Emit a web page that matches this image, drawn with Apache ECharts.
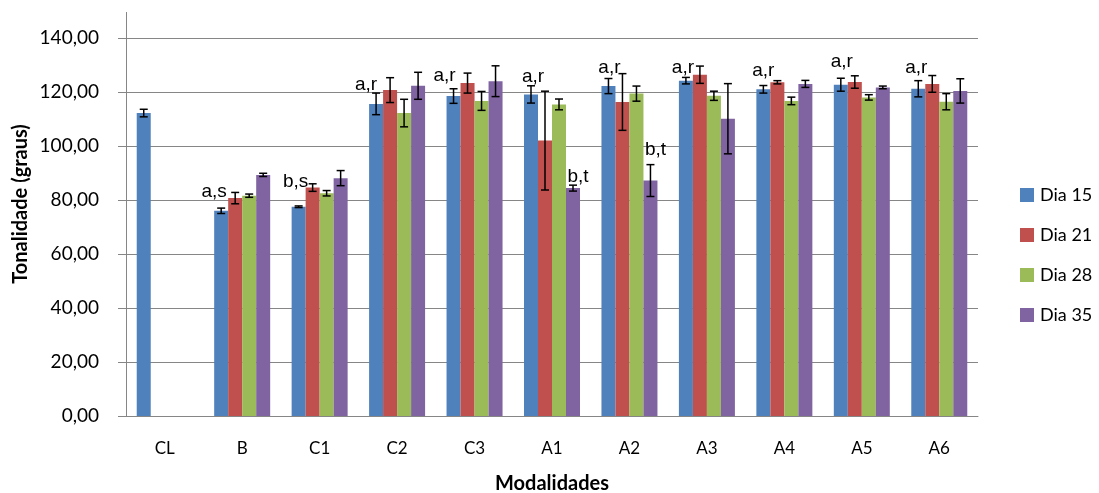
<!DOCTYPE html>
<html>
<head>
<meta charset="utf-8">
<script src="https://cdn.jsdelivr.net/npm/echarts@6/dist/echarts.min.js"></script>
<style>
  html, body { margin: 0; padding: 0; background: #fff; }
  #chart { width: 1099px; height: 493px; }
</style>
</head>
<body>
<div id="chart"></div>
<script>
// Tonalidade (graus) por modalidade, em quatro dias de armazenamento
const categories = ['CL', 'B', 'C1', 'C2', 'C3', 'A1', 'A2', 'A3', 'A4', 'A5', 'A6'];
const seriesNames = ['Dia 15', 'Dia 21', 'Dia 28', 'Dia 35'];

const dia15 = [112.2, 76.0, 77.5, 115.6, 118.5, 119.1, 122.2, 124.2, 121.0, 122.7, 121.2];
const dia21 = [null, 80.7, 84.6, 120.7, 123.3, 102.0, 116.3, 126.4, 123.6, 123.7, 123.0];
const dia28 = [null, 81.6, 82.5, 112.2, 116.7, 115.4, 119.4, 118.6, 116.7, 118.0, 116.4];
const dia35 = [null, 89.3, 88.1, 122.3, 124.0, 84.4, 87.2, 110.1, 123.0, 121.7, 120.4];

// desvio padrão (barras de erro)
const err15 = [1.4, 1.0, 0.3, 4.0, 2.7, 3.2, 2.8, 1.2, 1.4, 2.4, 3.0];
const err21 = [null, 2.1, 1.4, 4.6, 3.7, 18.3, 10.5, 3.2, 0.6, 2.3, 3.1];
const err28 = [null, 0.6, 1.0, 5.1, 3.5, 2.0, 2.8, 1.7, 1.4, 1.0, 3.0];
const err35 = [null, 0.6, 2.8, 5.0, 5.7, 1.1, 5.9, 13.0, 1.3, 0.5, 4.5];

// letras de significância
const letters15 = ['', 'a,s', 'b,s', 'a,r', 'a,r', 'a,r', 'a,r', 'a,r', 'a,r', 'a,r', 'a,r'];
const letters35 = ['', '', '', '', '', 'b,t', 'b,t', '', '', '', ''];

const yTicks = [0, 20, 40, 60, 80, 100, 120, 140];

// ---- appearance ----
const colors = ['#4F81BD', '#C0504D', '#9BBB59', '#8064A2'];
const BAR_W = 14;
const GRID = { left: 126, right: 121, top: 38, bottom: 77 };
const AXIS_FONT = 'Lato, "Open Sans", sans-serif';
const LETTER_FONT = '"Liberation Sans", Arial, sans-serif';
// small per-label nudges [dx, dy] for the letter annotations
const nudge15 = [null, [-7, -5], [-3, -10], [-10, -5], [-9, -6], [2, -3], [1, -4], [-3, 2], [0, -4], [1, -8], [-2, -6]];
const nudge35 = [null, null, null, null, null, [5, 3], [5, -16], null, null, null, null];

const values = [dia15, dia21, dia28, dia35];
const errors = [err15, err21, err28, err35];

function fmt(v) { return v.toFixed(2).replace('.', ','); }

function barData(si) {
  return values[si].map((v, i) => {
    let text = '';
    let off = [0, 0];
    if (si === 0 && letters15[i]) { text = letters15[i]; off = nudge15[i] || off; }
    if (si === 3 && letters35[i]) { text = letters35[i]; off = nudge35[i] || off; }
    if (!text) return v;
    return {
      value: v,
      label: {
        show: true, position: 'top', distance: 5, offset: off,
        formatter: text, fontFamily: LETTER_FONT, fontSize: 19, color: '#000'
      }
    };
  });
}

const barSeries = seriesNames.map((name, si) => ({
  name: name,
  type: 'bar',
  barWidth: BAR_W,
  barGap: '0%',
  itemStyle: { color: colors[si] },
  data: barData(si),
  z: 2
}));

const errorSeries = seriesNames.map((name, si) => ({
  name: name + ' erro',
  type: 'custom',
  z: 5,
  silent: true,
  data: values[si].map((v, i) => (v == null ? null : [i, v, errors[si][i]])).filter(d => d),
  encode: { x: 0, y: 1 },
  renderItem: function (params, api) {
    const cat = api.value(0);
    const v = api.value(1);
    const e = api.value(2);
    const hi = api.coord([cat, v + e]);
    const lo = api.coord([cat, v - e]);
    const x = hi[0] + (si - 1.5) * BAR_W;
    const cap = 4;
    const style = { stroke: '#000', lineWidth: 1.5, fill: null };
    return {
      type: 'group',
      children: [
        { type: 'line', shape: { x1: x, y1: hi[1], x2: x, y2: lo[1] }, style: style },
        { type: 'line', shape: { x1: x - cap, y1: hi[1], x2: x + cap, y2: hi[1] }, style: style },
        { type: 'line', shape: { x1: x - cap, y1: lo[1], x2: x + cap, y2: lo[1] }, style: style }
      ]
    };
  }
}));

const chart = echarts.init(document.getElementById('chart'), null, { renderer: 'canvas' });

chart.setOption({
  animation: false,
  backgroundColor: '#ffffff',
  grid: Object.assign({ outerBoundsMode: 'none', containLabel: false }, GRID),
  legend: {
    data: seriesNames,
    orient: 'vertical',
    left: 1015,
    top: 181,
    itemWidth: 14,
    itemHeight: 14,
    itemGap: 22,
    icon: 'rect',
    textStyle: { fontFamily: AXIS_FONT, fontSize: 18, color: '#000', padding: [0, 0, 0, 1] }
  },
  xAxis: {
    type: 'category',
    data: categories,
    name: 'Modalidades',
    nameLocation: 'middle',
    nameGap: 58,
    nameTextStyle: { fontFamily: AXIS_FONT, fontSize: 20, fontWeight: 'bold', color: '#000' },
    axisLine: { lineStyle: { color: '#868686', width: 1 } },
    axisTick: { show: false },
    axisLabel: { fontFamily: AXIS_FONT, fontSize: 17, color: '#000', margin: 24 }
  },
  yAxis: {
    type: 'value',
    min: yTicks[0],
    max: yTicks[yTicks.length - 1],
    interval: yTicks[1] - yTicks[0],
    axisLine: { show: true, lineStyle: { color: '#868686', width: 1 } },
    axisTick: { show: true, inside: false, length: 8, lineStyle: { color: '#868686' } },
    splitLine: { lineStyle: { color: '#868686', width: 1 } },
    axisLabel: {
      fontFamily: AXIS_FONT, fontSize: 19, color: '#000', margin: 27,
      formatter: fmt
    }
  },
  graphic: [
    {
      // axis line continues a little above the last gridline
      type: 'line',
      shape: { x1: GRID.left + 0.5, y1: 12, x2: GRID.left + 0.5, y2: GRID.top },
      style: { stroke: '#868686', lineWidth: 1 },
      silent: true
    },
    {
      type: 'text',
      x: 21,
      y: 204,
      rotation: Math.PI / 2,
      style: {
        text: 'Tonalidade (graus)',
        font: 'bold 20px ' + AXIS_FONT,
        fill: '#000',
        align: 'center',
        verticalAlign: 'middle'
      },
      silent: true
    }
  ],
  series: barSeries.concat(errorSeries)
});
</script>
</body>
</html>
